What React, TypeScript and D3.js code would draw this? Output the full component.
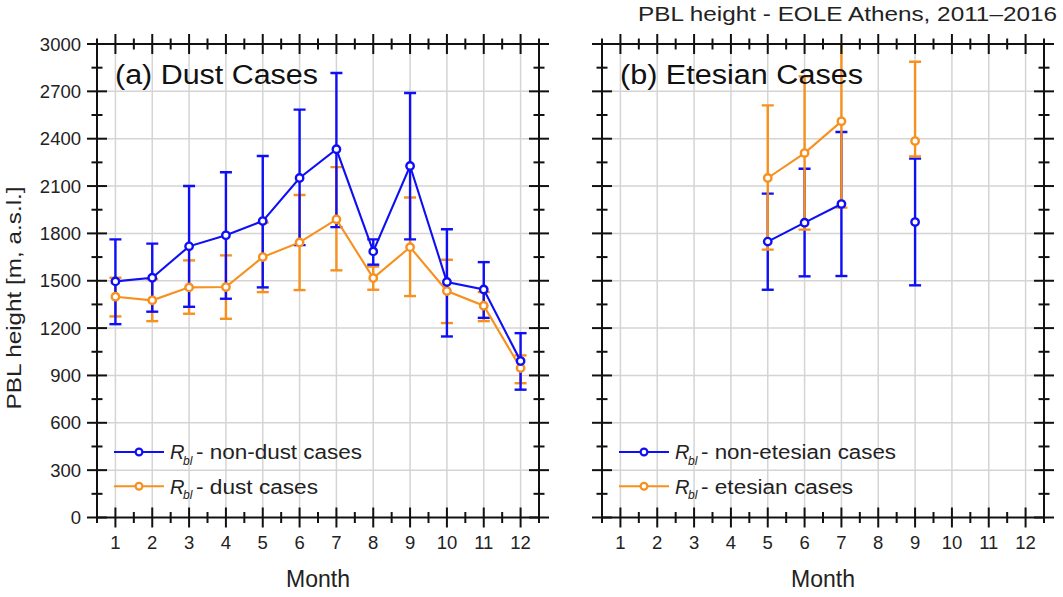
import React from 'react';
import * as d3 from 'd3';

// ---------- data ----------
const months = [1, 2, 3, 4, 5, 6, 7, 8, 9, 10, 11, 12];
const yTickValues = [0, 300, 600, 900, 1200, 1500, 1800, 2100, 2400, 2700, 3000];

// (a) Dust cases
const nonDustMean = [1496, 1519, 1718, 1788, 1878, 2151, 2333, 1686, 2227, 1492, 1445, 991];
const nonDustUpper = [1762, 1735, 2100, 2187, 2290, 2584, 2816, 1762, 2690, 1826, 1618, 1168];
const nonDustLower = [1225, 1304, 1335, 1386, 1458, 1726, 1840, 1602, 1762, 1147, 1265, 810];

const dustMean = [1399, 1376, 1458, 1460, 1650, 1743, 1889, 1517, 1713, 1435, 1342, 947];
const dustUpper = [1519, 1510, 1629, 1661, 1868, 2043, 2220, 1590, 2027, 1633, 1428, 1027];
const dustLower = [1274, 1244, 1291, 1259, 1428, 1441, 1566, 1443, 1403, 1232, 1244, 851];

// (b) Etesian cases
const nonEtesianMean = [null, null, null, null, 1748, 1868, 1986, null, 1872, null, null, null];
const nonEtesianUpper = [null, null, null, null, 2052, 2210, 2442, null, 2274, null, null, null];
const nonEtesianLower = [null, null, null, null, 1443, 1528, 1530, null, 1471, null, null, null];

const etesianMean = [null, null, null, null, 2151, 2309, 2510, null, 2385, null, null, null];
const etesianUpper = [null, null, null, null, 2611, 2795, 3100, null, 2888, null, null, null];
const etesianLower = [null, null, null, null, 1697, 1824, 1963, null, 2288, null, null, null];

const BLUE = '#0f0ff5';
const ORANGE = '#f7901e';
const FONT = '"Liberation Sans", Arial, Helvetica, sans-serif';

type Val = number | null;
type Series = { mean: Val[]; upper: Val[]; lower: Val[]; color: string; label: string; labelLen: number };

const panels = [
  {
    id: 'a',
    x0: 97,
    x1: 539,
    title: '(a) Dust Cases',
    titleLen: 203,
    yLabels: true,
    series: [
      { mean: dustMean, upper: dustUpper, lower: dustLower, color: ORANGE, label: '- dust cases', labelLen: 122 },
      { mean: nonDustMean, upper: nonDustUpper, lower: nonDustLower, color: BLUE, label: '- non-dust cases', labelLen: 166 },
    ] as Series[],
  },
  {
    id: 'b',
    x0: 602,
    x1: 1044,
    title: '(b) Etesian Cases',
    titleLen: 243,
    yLabels: false,
    series: [
      { mean: nonEtesianMean, upper: nonEtesianUpper, lower: nonEtesianLower, color: BLUE, label: '- non-etesian cases', labelLen: 195 },
      { mean: etesianMean, upper: etesianUpper, lower: etesianLower, color: ORANGE, label: '- etesian cases', labelLen: 152 },
    ] as Series[],
  },
];

const Y_TOP = 44;
const Y_BOT = 517.5;
const MAJ = 10;
const MIN = 5.5;

function Panel({ p }: { p: typeof panels[number] }) {
  const x = d3.scaleLinear().domain([0.5, 12.5]).range([p.x0, p.x1]);
  const y = d3.scaleLinear().domain([0, 3000]).range([Y_BOT, Y_TOP]);
  const xMinor = d3.range(0.5, 12.6, 1);
  const yMinor = d3.range(150, 3000, 300);
  const clipId = `clip-${p.id}`;
  const line = d3
    .line<Val>()
    .defined((d) => d != null)
    .x((_, i) => x(months[i]))
    .y((d) => y(d as number));

  const legendOrder = [...p.series].sort((a, b) => (a.color === BLUE ? -1 : 1) - (b.color === BLUE ? -1 : 1));
  const lx0 = p.x0 + 17;
  const lx1 = lx0 + 50;
  const legendY = [y(415), y(198)];

  return (
    <g>
      <defs>
        <clipPath id={clipId}>
          <rect x={p.x0} y={Y_TOP} width={p.x1 - p.x0} height={Y_BOT - Y_TOP} />
        </clipPath>
      </defs>
      {/* grid */}
      {months.map((m) => (
        <line key={'gx' + m} x1={x(m)} x2={x(m)} y1={Y_TOP} y2={Y_BOT} stroke="#d4d4d4" strokeWidth={1.5} />
      ))}
      {yTickValues.slice(1, -1).map((v) => (
        <line key={'gy' + v} x1={p.x0} x2={p.x1} y1={y(v)} y2={y(v)} stroke="#d4d4d4" strokeWidth={1.5} />
      ))}

      {/* data */}
      <g clipPath={`url(#${clipId})`}>
        {p.series.map((s, si) => (
          <g key={'eb' + si} stroke={s.color} strokeWidth={2.4} fill="none">
            {months.map((m, i) =>
              s.mean[i] == null ? null : (
                <g key={m}>
                  <line x1={x(m)} x2={x(m)} y1={y(s.lower[i] as number)} y2={y(s.upper[i] as number)} />
                  <line x1={x(m) - 6} x2={x(m) + 6} y1={y(s.lower[i] as number)} y2={y(s.lower[i] as number)} />
                  <line x1={x(m) - 6} x2={x(m) + 6} y1={y(s.upper[i] as number)} y2={y(s.upper[i] as number)} />
                </g>
              )
            )}
          </g>
        ))}
        {p.series.map((s, si) => (
          <path key={'ln' + si} d={line(s.mean) || ''} stroke={s.color} strokeWidth={2.1} fill="none" />
        ))}
        {p.series.map((s, si) => (
          <g key={'mk' + si}>
            {months.map((m, i) =>
              s.mean[i] == null ? null : (
                <circle key={m} cx={x(m)} cy={y(s.mean[i] as number)} r={3.7} fill="#fff" stroke={s.color} strokeWidth={2.4} />
              )
            )}
          </g>
        ))}
      </g>

      {/* frame */}
      <rect x={p.x0} y={Y_TOP} width={p.x1 - p.x0} height={Y_BOT - Y_TOP} fill="none" stroke="#111" strokeWidth={2} />
      <g stroke="#111" strokeWidth={2}>
        {months.map((m) => (
          <g key={'xt' + m}>
            <line x1={x(m)} x2={x(m)} y1={Y_BOT - MAJ} y2={Y_BOT + MAJ} />
            <line x1={x(m)} x2={x(m)} y1={Y_TOP - MAJ} y2={Y_TOP + MAJ} />
          </g>
        ))}
        {xMinor.map((m) => (
          <g key={'xm' + m}>
            <line x1={x(m)} x2={x(m)} y1={Y_BOT - MIN} y2={Y_BOT + MIN} />
            <line x1={x(m)} x2={x(m)} y1={Y_TOP - MIN} y2={Y_TOP + MIN} />
          </g>
        ))}
        {yTickValues.map((v) => (
          <g key={'yt' + v}>
            <line x1={p.x0 - MAJ} x2={p.x0 + MAJ} y1={y(v)} y2={y(v)} />
            <line x1={p.x1 - MAJ} x2={p.x1 + MAJ} y1={y(v)} y2={y(v)} />
          </g>
        ))}
        {yMinor.map((v) => (
          <g key={'ym' + v}>
            <line x1={p.x0 - MIN} x2={p.x0 + MIN} y1={y(v)} y2={y(v)} />
            <line x1={p.x1 - MIN} x2={p.x1 + MIN} y1={y(v)} y2={y(v)} />
          </g>
        ))}
      </g>

      {/* tick labels */}
      <g fontFamily={FONT} fontSize={18.5} fill="#222">
        {months.map((m) => (
          <text key={'xl' + m} x={x(m)} y={549} textAnchor="middle">
            {m}
          </text>
        ))}
        {p.yLabels &&
          yTickValues.map((v) => (
            <text key={'yl' + v} x={p.x0 - 16} y={y(v) + 6.6} textAnchor="end">
              {v}
            </text>
          ))}
      </g>
      <text x={(p.x0 + p.x1) / 2} y={587} textAnchor="middle" fontFamily={FONT} fontSize={23} fill="#222">
        Month
      </text>
      <text x={p.x0 + 18} y={84} fontFamily={FONT} fontSize={27} fill="#111" textLength={p.titleLen} lengthAdjust="spacingAndGlyphs">
        {p.title}
      </text>

      {/* legend */}
      {legendOrder.map((s, li) => {
        const ly = legendY[li];
        return (
          <g key={'lg' + li}>
            <line x1={lx0} x2={lx1} y1={ly} y2={ly} stroke={s.color} strokeWidth={2} />
            <circle cx={(lx0 + lx1) / 2} cy={ly} r={3.4} fill="#fff" stroke={s.color} strokeWidth={2.2} />
            <text x={lx1 + 6} y={ly + 7.5} fontFamily={FONT} fontSize={20} fontStyle="italic" fill="#222">
              R
            </text>
            <text x={lx1 + 19} y={ly + 13} fontFamily={FONT} fontSize={12} fontStyle="italic" fill="#222">
              bl
            </text>
            <text x={lx1 + 32} y={ly + 7.5} fontFamily={FONT} fontSize={20} fill="#222" textLength={s.labelLen} lengthAdjust="spacingAndGlyphs">
              {s.label}
            </text>
          </g>
        );
      })}
    </g>
  );
}

export default function App() {
  return (
    <svg width={1063} height={597} style={{ position: 'absolute', left: 0, top: 0, background: '#fff' }}>
      <rect width={1063} height={597} fill="#fff" />
      {panels.map((p) => (
        <Panel key={p.id} p={p} />
      ))}
      <text x={1057} y={21} textAnchor="end" fontFamily={FONT} fontSize={21} fill="#222" textLength={419} lengthAdjust="spacingAndGlyphs">
        PBL height - EOLE Athens, 2011–2016
      </text>
      <text
        transform="translate(21,298) rotate(-90)"
        textAnchor="middle"
        fontFamily={FONT}
        fontSize={21}
        fill="#222"
        textLength={223}
        lengthAdjust="spacingAndGlyphs"
      >
        PBL height [m, a.s.l.]
      </text>
    </svg>
  );
}
